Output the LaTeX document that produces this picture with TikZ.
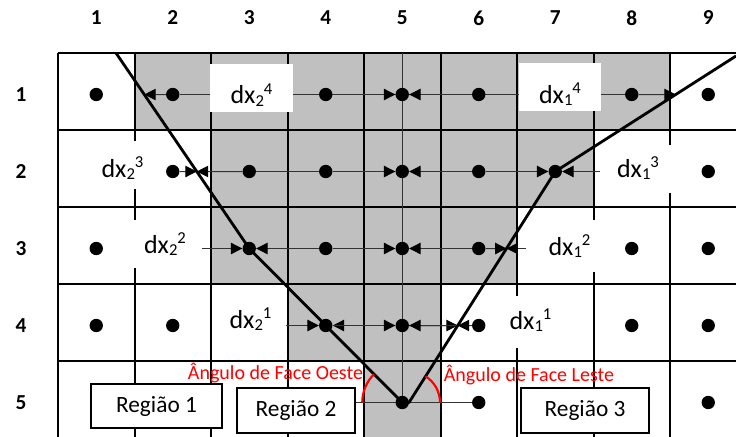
\documentclass[tikz,border=0pt]{standalone}
\usepackage{fontspec}
\setmainfont{Carlito}
\usepackage{tikz}
\usetikzlibrary{arrows.meta,backgrounds,calc}
\definecolor{Shade}{HTML}{C0C0C0}
\definecolor{Wire}{HTML}{333333}
\definecolor{Angle}{HTML}{FF0000}
\newcommand{\dxlab}[2]{dx\raisebox{-2pt}{\fontsize{12.5}{13}\selectfont #1}\raisebox{7pt}{\fontsize{12.5}{13}\selectfont #2}}
\tikzset{
 dot/.style={circle,fill=black,inner sep=0pt,minimum size=10pt},
 lbl/.style={fill=white,inner sep=0pt,font=\fontsize{19.5}{22}\selectfont},
 regiao/.style={draw=black,line width=1.1pt,fill=white,inner sep=0pt,font=\fontsize{17.5}{20}\selectfont},
 hdr/.style={font=\bfseries\fontsize{16}{18}\selectfont},
 angtxt/.style={text=Angle,inner sep=0pt,font=\fontsize{15}{18}\selectfont},
 cellline/.style={line width=1.5pt},
 wire/.style={draw=Wire,line width=0.75pt},
 arr/.style={wire,-{Triangle[length=8.5pt,width=8.5pt,color=black]}},
 face/.style={line width=2.1pt,line join=round},
 arcmark/.style={draw=Angle,line width=1.6pt}
}

\begin{document}
\begin{tikzpicture}[x=0.75pt,y=-0.75pt]
\useasboundingbox (0,0) rectangle (736,436);
\foreach \c in {1,...,9} \node[hdr] (h\c) at ({58+76.5*(\c-0.5)},18) {\c};
\foreach \r in {1,...,5} \node[hdr] (r\r) at (21,{56+77*(\r-0.5)}) {\r};
\foreach \r/\cs in {1/{1,2,4,5,6,8,9},2/{2,3,4,5,6,7,9},3/{1,3,4,5,6,8,9},4/{1,2,4,5,6,8,9},5/{5,6,9}}
  \foreach \c in \cs \node[dot] (p\c\r) at ({58+76.5*(\c-0.5)},{56+77*(\r-0.5)}) {};
\node[lbl,minimum width=62.25pt,text height=29.5pt,text depth=6.5pt] (l24) at (251.5,88) {\dxlab{2}{4}};
\node[lbl,minimum width=61.5pt,text height=30pt,text depth=6pt] (l14) at (560,87) {\dxlab{1}{4}};
\node[lbl,minimum width=52.5pt,text height=27pt,text depth=9pt] (l23) at (122.5,165) {\dxlab{2}{3}};
\node[lbl,minimum width=57pt,text height=24pt,text depth=12pt] (l13) at (638,169) {\dxlab{1}{3}};
\node[lbl,minimum width=55.5pt,text height=24.75pt,text depth=11.25pt] (l22) at (165,244) {\dxlab{2}{2}};
\node[lbl,minimum width=65.25pt,text height=26.25pt,text depth=12.75pt] (l12) at (569.5,246) {\dxlab{1}{2}};
\node[lbl,minimum width=52.5pt,text height=24pt,text depth=15pt] (l21) at (250.5,322) {\dxlab{2}{1}};
\node[lbl,minimum width=60.75pt,text height=24.75pt,text depth=14.25pt] (l11) at (530.5,322) {\dxlab{1}{1}};
\node[regiao,minimum width=98.25pt,minimum height=33pt] (reg1) at (156.5,406) {Região 1};
\node[regiao,minimum width=88.5pt,minimum height=33.75pt] (reg2) at (296,410.5) {Região 2};
\node[regiao,minimum width=96pt,minimum height=33.75pt] (reg3) at (585,410.5) {Região 3};
\node[angtxt] (oeste) at (275.5,373) {Ângulo de Face Oeste};
\node[angtxt] (leste) at (529,375.5) {Ângulo de Face Leste};
\coordinate (tl) at (116,53); \coordinate (tr) at (736,56); \coordinate (top5) at (402.25,53);
\coordinate (vR) at ($(p55)+(6.75,0)$);
\coordinate (xA) at (intersection of tl--p33 and p11--p21);
\coordinate (xC) at (intersection of tl--p33 and p22--p32);
\coordinate (xB) at (intersection of p72--tr and p81--p91);
\coordinate (xE) at (intersection of vR--p72 and p63--p83);
\coordinate (xF) at (intersection of vR--p72 and p54--p64);
\begin{pgfonlayer}{background}
\foreach \r/\a/\b in {1/2/8,2/3/7,3/3/6,4/4/5,5/5/5}
  \fill[Shade] ({58+76.5*(\a-1)},{53+77*(\r-1)}) rectangle ({58+76.5*\b},{53+77*\r});
\foreach \k in {0,...,9} \draw[cellline] ({58+76.5*\k},53) -- ({58+76.5*\k},440);
\foreach \k in {0,...,5} \draw[cellline] (58,{53+77*\k}) -- (750,{53+77*\k});
\draw[wire] (p21)--(p81); \draw[wire] (p32)--(p42);
\draw[wire] (reg2.east |- p55)--(p65); \draw[wire] (top5)--(p55);
\end{pgfonlayer}
\draw[arr] (p21)--(xA); \draw[arr] (p41)--(p51); \draw[arr] (p61)--(p51); \draw[arr] (p81)--(xB);
\draw[arr] (p22)--(xC); \draw[arr] (p32)--(xC); \draw[arr] (p42)--(p52); \draw[arr] (p62)--(p52);
\draw[arr] (p62)--(p72); \draw[arr] (l13.west |- p72)--(p72);
\draw[arr] (l22.east |- p33)--(p33); \draw[arr] (p43)--(p33); \draw[arr] (p43)--(p53); \draw[arr] (p63)--(p53);
\draw[arr] (p63)--(xE); \draw[arr] (l12.west |- xE)--(xE);
\draw[arr] (l21.east |- p44)--(p44); \draw[arr] (p54)--(p44); \draw[arr] (p44)--(p54);
\draw[arr] (p54)--(xF); \draw[arr] (xF)--(p54); \draw[arr] (p64)--(xF);
\draw[face] (tl)--(p33.center)--(p55.center)--(vR)--(p72.center)--(tr);
\draw[arcmark] ($(p55)+(-40,0)$) arc[start angle=180,end angle=225,radius=40];
\draw[arcmark] ($(vR)+(31,0)$) arc[start angle=0,end angle=-57.7,radius=31];
\end{tikzpicture}
\end{document}
